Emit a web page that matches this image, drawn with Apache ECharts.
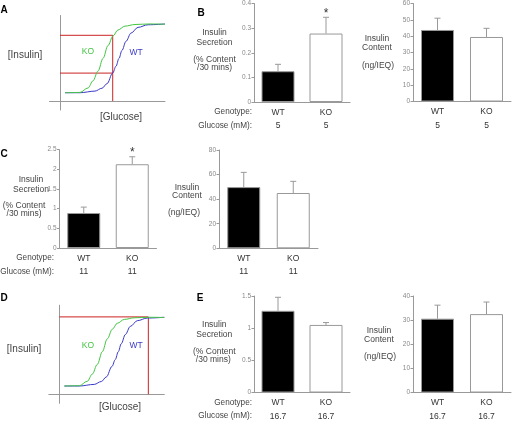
<!DOCTYPE html>
<html><head><meta charset="utf-8">
<script src="https://cdn.jsdelivr.net/npm/echarts@6/dist/echarts.min.js"></script>
<style>html,body{margin:0;padding:0;background:#fff}#c{width:514px;height:423px}</style>
</head><body><div id="c"></div>
<script>
// ---------- data ----------
const genotypes = ['WT', 'KO'];

// schematic dose-response curves (panels A and D), arbitrary units
const curveGlucoseKO = [0.48, 1.90, 2.67, 3.14, 3.62, 4.10, 4.57, 5.05, 5.52, 6.19, 7.14, 8.57, 10];
const curveInsulinKO = [0.92, 0.95, 1.45, 2.24, 3.32, 4.74, 6.16, 7.23, 7.89, 8.32, 8.50, 8.56, 8.53];
const curveGlucoseWT = [0.48, 1.90, 3.33, 4.00, 4.48, 5.02, 5.33, 5.62, 5.90, 6.29, 6.76, 7.43, 8.38, 10];
const curveInsulinWT = [0.92, 0.92, 1.10, 1.42, 1.93, 3.10, 3.86, 4.74, 5.62, 6.64, 7.54, 8.18, 8.47, 8.56];

// red guide lines
const guideGlucoseA = 5.02, guideInsulinKO_A = 7.3, guideInsulinWT_A = 3.1;
const guideGlucoseD = 8.48, guideInsulinD = 8.6;

// panel B (5 mM glucose)
const glucoseB = '5';
const secretionB = [0.125, 0.278], secretionErrB = [0.028, 0.066], sigB = [0, 1];
const contentB = [43.8, 39.5], contentErrB = [7.2, 5.3];
const secTicksB = [0, 0.1, 0.2, 0.3, 0.4];
const contTicksB = [0, 10, 20, 30, 40, 50, 60];

// panel C (11 mM glucose)
const glucoseC = '11';
const secretionC = [0.89, 2.13], secretionErrC = [0.15, 0.19], sigC = [0, 1];
const contentC = [49.8, 45.0], contentErrC = [12.0, 9.5];
const secTicksC = [0, 0.5, 1, 1.5, 2, 2.5];
const contTicksC = [0, 20, 40, 60, 80];

// panel E (16.7 mM glucose)
const glucoseE = '16.7';
const secretionE = [1.27, 1.05], secretionErrE = [0.21, 0.037], sigE = [0, 0];
const contentE = [30.6, 32.5], contentErrE = [5.6, 5.0];
const secTicksE = [0, 0.5, 1, 1.5];
const contTicksE = [0, 10, 20, 30, 40];

// ---------- chart ----------
const FONT = 'Liberation Sans, Arial, Helvetica, sans-serif';
const AXIS = '#999', TICKTXT = '#888', TXT = '#444';
const GREEN = '#44c544', BLUE = '#3a3ac8', RED = '#cc2222';

const grids = [], xAxes = [], yAxes = [], series = [], graphics = [];

function text(str, x, y, o) {
  o = o || {};
  const align = o.align || 'center';
  graphics.push({
    type: 'text', x: x, y: y, z: 100,
    style: {
      text: str, fill: o.color || TXT,
      font: (o.bold ? 'bold ' : '') + (o.size || 8.5) + 'px ' + FONT,
      align: align, verticalAlign: 'middle',
      textAlign: align, textVerticalAlign: 'middle'
    }
  });
}

function curvePanel(box, yMax, guide) {
  const gi = grids.length;
  grids.push({left: box.left, top: box.top, width: box.width, height: box.height});
  xAxes.push({gridIndex: gi, type: 'value', min: -1, max: 10,
    axisLine: {onZero: true, lineStyle: {color: AXIS, width: 1}},
    axisTick: {show: false}, axisLabel: {show: false}, splitLine: {show: false}});
  yAxes.push({gridIndex: gi, type: 'value', min: -1, max: yMax,
    axisLine: {onZero: true, lineStyle: {color: AXIS, width: 1}},
    axisTick: {show: false}, axisLabel: {show: false}, splitLine: {show: false}});
  guide.forEach(seg => series.push({
    type: 'line', xAxisIndex: gi, yAxisIndex: gi, data: seg, symbol: 'none',
    lineStyle: {color: RED, width: 1}, silent: true, z: 2
  }));
  series.push({type: 'line', xAxisIndex: gi, yAxisIndex: gi, symbol: 'none', smooth: 0.35, smoothMonotone: 'x',
    data: curveGlucoseWT.map((g, i) => [g, curveInsulinWT[i]]), lineStyle: {color: BLUE, width: 1}, z: 3});
  series.push({type: 'line', xAxisIndex: gi, yAxisIndex: gi, symbol: 'none', smooth: 0.35, smoothMonotone: 'x',
    data: curveGlucoseKO.map((g, i) => [g, curveInsulinKO[i]]), lineStyle: {color: GREEN, width: 1}, z: 4});
}

function barPanel(box, ticks, values, errs, sig, glucose) {
  const gi = grids.length;
  grids.push({left: box.left, top: box.top, width: box.width, height: box.height});
  xAxes.push({gridIndex: gi, type: 'category', data: genotypes,
    axisLine: {lineStyle: {color: AXIS, width: 1}},
    axisTick: {alignWithLabel: true, length: 3, lineStyle: {color: AXIS}},
    axisLabel: {formatter: v => v + '\n' + glucose, fontSize: 8.5, color: '#333', lineHeight: 13.5,
      margin: 3.5, fontFamily: FONT}});
  yAxes.push({gridIndex: gi, type: 'value', min: ticks[0], max: ticks[ticks.length - 1],
    interval: ticks[1] - ticks[0],
    axisLine: {show: true, lineStyle: {color: AXIS, width: 1}},
    axisTick: {show: true, length: 2.5, lineStyle: {color: AXIS}},
    axisLabel: {fontSize: 6.5, color: TICKTXT, margin: 3, fontFamily: FONT},
    splitLine: {show: false}});
  series.push({type: 'bar', xAxisIndex: gi, yAxisIndex: gi, data: values, barWidth: 33,
    itemStyle: {color: p => p.dataIndex === 0 ? '#000' : '#fff', borderColor: '#999', borderWidth: 1}, z: 2});
  series.push({type: 'custom', xAxisIndex: gi, yAxisIndex: gi, z: 5, clip: false,
    data: values.map((v, i) => [i, v, errs[i], sig[i]]),
    encode: {x: 0, y: 1},
    renderItem: (params, api) => {
      const i = api.value(0), v = api.value(1), e = api.value(2), s = api.value(3);
      const p0 = api.coord([i, v]), p1 = api.coord([i, v + e]);
      const st = {stroke: AXIS, lineWidth: 1};
      const ch = [
        {type: 'line', shape: {x1: p0[0], y1: p0[1], x2: p1[0], y2: p1[1]}, style: st},
        {type: 'line', shape: {x1: p1[0] - 3, y1: p1[1], x2: p1[0] + 3, y2: p1[1]}, style: st}
      ];
      if (s) ch.push({type: 'text', style: {text: '*', x: p1[0], y: p1[1] - 4,
        font: '12px ' + FONT, fill: '#333', align: 'center', verticalAlign: 'middle',
        textAlign: 'center', textVerticalAlign: 'middle'}});
      return {type: 'group', children: ch};
    }});
}

// ----- layout -----
// A
curvePanel({left: 49.5, top: 15.5, width: 115.5, height: 94.5}, 9.5, [
  [[0, guideInsulinKO_A], [guideGlucoseA, guideInsulinKO_A], [guideGlucoseA, 0]],
  [[0, guideInsulinWT_A], [guideGlucoseA, guideInsulinWT_A]]
]);
text('A', 4, 10, {bold: true, size: 10, color: '#000'});
text('[Insulin]', 25, 55, {size: 10});
text('[Glucose]', 121, 117, {size: 10});
text('KO', 88, 52, {color: GREEN, size: 8.5});
text('WT', 136, 53, {color: BLUE, size: 8.5});

// D
curvePanel({left: 48.8, top: 305.2, width: 115.5, height: 98.1}, 9.9, [
  [[0, guideInsulinD], [guideGlucoseD, guideInsulinD], [guideGlucoseD, 0]]
]);
text('D', 4, 298, {bold: true, size: 10, color: '#000'});
text('[Insulin]', 24, 349, {size: 10});
text('[Glucose]', 120, 407, {size: 10});
text('KO', 88, 346, {color: GREEN, size: 8.5});
text('WT', 136, 346, {color: BLUE, size: 8.5});

// B
barPanel({left: 254, top: 3.2, width: 96, height: 98.8}, secTicksB, secretionB, secretionErrB, sigB, glucoseB);
barPanel({left: 413, top: 3.5, width: 98, height: 98}, contTicksB, contentB, contentErrB, [0, 0], glucoseB);
text('B', 201, 13, {bold: true, size: 10, color: '#000'});
text('Insulin', 214.5, 33); text('Secretion', 214.5, 43);
text('(% Content', 214.5, 60); text('/30 mins)', 214.5, 68);
text('Genotype:', 252, 112, {align: 'right', size: 8.2});
text('Glucose (mM):', 252, 125.5, {align: 'right', size: 8.2});
text('Insulin', 377, 39); text('Content', 377, 48); text('(ng/IEQ)', 378, 66);

// C
barPanel({left: 59.5, top: 149.7, width: 97, height: 98.3}, secTicksC, secretionC, secretionErrC, sigC, glucoseC);
barPanel({left: 219, top: 150, width: 99, height: 98.3}, contTicksC, contentC, contentErrC, [0, 0], glucoseC);
text('C', 4, 154, {bold: true, size: 10, color: '#000'});
text('Insulin', 31, 180); text('Secretion', 31, 189.3);
text('(% Content', 24, 205.7); text('/30 mins)', 24, 214);
text('Genotype:', 54, 258, {align: 'right', size: 8.2});
text('Glucose (mM):', 54, 271.5, {align: 'right', size: 8.2});
text('Insulin', 187, 187.5); text('Content', 187, 195.5); text('(ng/IEQ)', 184, 213);

// E
barPanel({left: 254, top: 296, width: 96, height: 96.7}, secTicksE, secretionE, secretionErrE, sigE, glucoseE);
barPanel({left: 413, top: 296, width: 98, height: 98}, contTicksE, contentE, contentErrE, [0, 0], glucoseE);
text('E', 200, 298, {bold: true, size: 10, color: '#000'});
text('Insulin', 214.3, 325); text('Secretion', 214.3, 334.3);
text('(% Content', 214.3, 351.7); text('/30 mins)', 213.3, 360);
text('Genotype:', 252, 403, {align: 'right', size: 8.2});
text('Glucose (mM):', 252, 416, {align: 'right', size: 8.2});
text('Insulin', 379, 331); text('Content', 379, 340); text('(ng/IEQ)', 380, 357);

const chart = echarts.init(document.getElementById('c'), null, {renderer: 'canvas'});
chart.setOption({
  animation: false,
  backgroundColor: '#fff',
  textStyle: {fontFamily: FONT},
  grid: grids, xAxis: xAxes, yAxis: yAxes, series: series, graphic: graphics
});
</script></body></html>
